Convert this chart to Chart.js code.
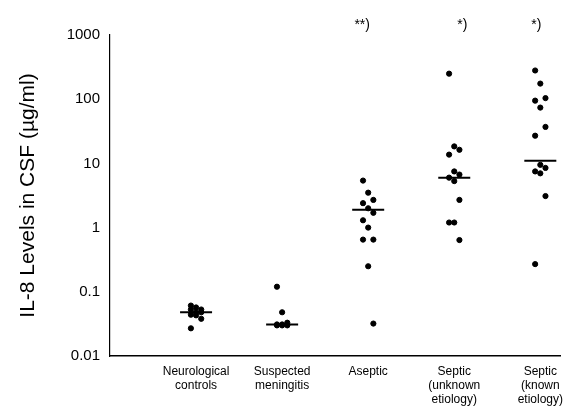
<!DOCTYPE html>
<html>
<head>
<meta charset="utf-8">
<script src="https://cdn.jsdelivr.net/npm/chart.js@4"></script>
<style>
  body { margin: 0; background: #fff; }
  #wrap { width: 565px; height: 411px; }
</style>
</head>
<body>
<div id="wrap"><canvas id="il8Chart" width="565" height="411"></canvas></div>
<script>
// groups along the x axis
const groups = [
  ["Neurological", "controls"],
  ["Suspected", "meningitis"],
  "Aseptic",
  ["Septic", "(unknown", "etiology)"],
  ["Septic", "(known", "etiology)"]
];
// IL-8 values per patient
const neuroVals = [0.061, 0.057, 0.053, 0.053, 0.048, 0.048, 0.044, 0.043, 0.038, 0.027];
const suspectVals = [0.12, 0.048, 0.033, 0.031, 0.031, 0.030, 0.030, 0.030];
const asepticVals = [5.4, 3.5, 2.7, 2.4, 2.0, 1.7, 1.3, 1.0, 0.65, 0.65, 0.25, 0.032];
const septicUnkVals = [250, 18.4, 16.3, 13.7, 7.5, 6.7, 6.0, 5.3, 2.7, 1.2, 1.2, 0.64];
const septicKnownVals = [280, 175, 104, 95, 74, 37, 27, 9.5, 8.5, 7.5, 7.0, 3.1, 0.27];
const medians = [0.048, 0.031, 1.9, 6.0, 11];
const marks = ["", "", "**)", "*)", "*)"];
const yTicks = [0.01, 0.1, 1, 10, 100, 1000];

const allVals = [neuroVals, suspectVals, asepticVals, septicUnkVals, septicKnownVals];
const font = "'Liberation Sans', Arial, sans-serif";

// small spread so close points don't sit on top of each other
const pts = [];
allVals.forEach((vals, g) => {
  vals.forEach((v, i) => {
    pts.push({ x: g + 1 + ((i % 3) - 1) * 0.06, y: v });
  });
});
const medPts = medians.map((m, g) => ({ x: g + 1, y: m }));

// the significance marks sit above the plot, a bit off-centre like the original
const markShift = [0, 0, -6, 8, -4];
const marksPlugin = {
  id: "marks",
  afterDraw(chart) {
    const ctx = chart.ctx;
    const xs = chart.scales.x;
    ctx.save();
    ctx.fillStyle = "#000";
    ctx.font = "14px " + font;
    ctx.textAlign = "center";
    ctx.textBaseline = "middle";
    marks.forEach((m, g) => {
      if (m) ctx.fillText(m, xs.getPixelForValue(g + 1) + markShift[g], chart.chartArea.top - 10);
    });
    ctx.restore();
  }
};

new Chart("il8Chart", {
  type: "scatter",
  data: {
    datasets: [{
      data: pts,
      backgroundColor: "#000",
      borderColor: "#000",
      pointRadius: 2.6,
      pointHoverRadius: 2.6
    }, {
      data: medPts,
      pointStyle: "line",
      pointRadius: 16,
      pointHoverRadius: 16,
      borderColor: "#000",
      borderWidth: 2
    }]
  },
  options: {
    responsive: false,
    animation: false,
    layout: { autoPadding: false, padding: { left: 16, top: 35, right: 0, bottom: 0 } },
    plugins: { legend: { display: false }, tooltip: { enabled: false } },
    scales: {
      x: {
        type: "linear",
        min: 0,
        max: 5.23,
        afterBuildTicks: (s) => { s.ticks = groups.map((_, i) => ({ value: i + 1 })); },
        afterFit: (s) => { s.height = 55; },
        grid: { display: true, drawOnChartArea: false, drawTicks: true, tickLength: 7, tickColor: "rgba(0,0,0,0)" },
        border: { color: "#000", width: 1.5 },
        ticks: {
          autoSkip: false,
          maxRotation: 0,
          padding: 2,
          color: "#000",
          font: { size: 12, family: font, lineHeight: 1.15 },
          callback: (v) => groups[v - 1]
        }
      },
      y: {
        type: "logarithmic",
        min: 0.01,
        max: 1000,
        afterBuildTicks: (s) => { s.ticks = yTicks.map(v => ({ value: v })); },
        afterFit: (s) => { s.width = 94; },
        grid: { display: false, drawTicks: false },
        border: { color: "#000", width: 1.2 },
        title: {
          display: true,
          text: "IL-8 Levels in CSF (µg/ml)",
          color: "#000",
          font: { size: 21, family: font },
          padding: 0
        },
        ticks: {
          padding: 10,
          color: "#000",
          font: { size: 15, family: font },
          callback: (v) => String(v)
        }
      }
    }
  },
  plugins: [marksPlugin]
});
</script>
</body>
</html>
